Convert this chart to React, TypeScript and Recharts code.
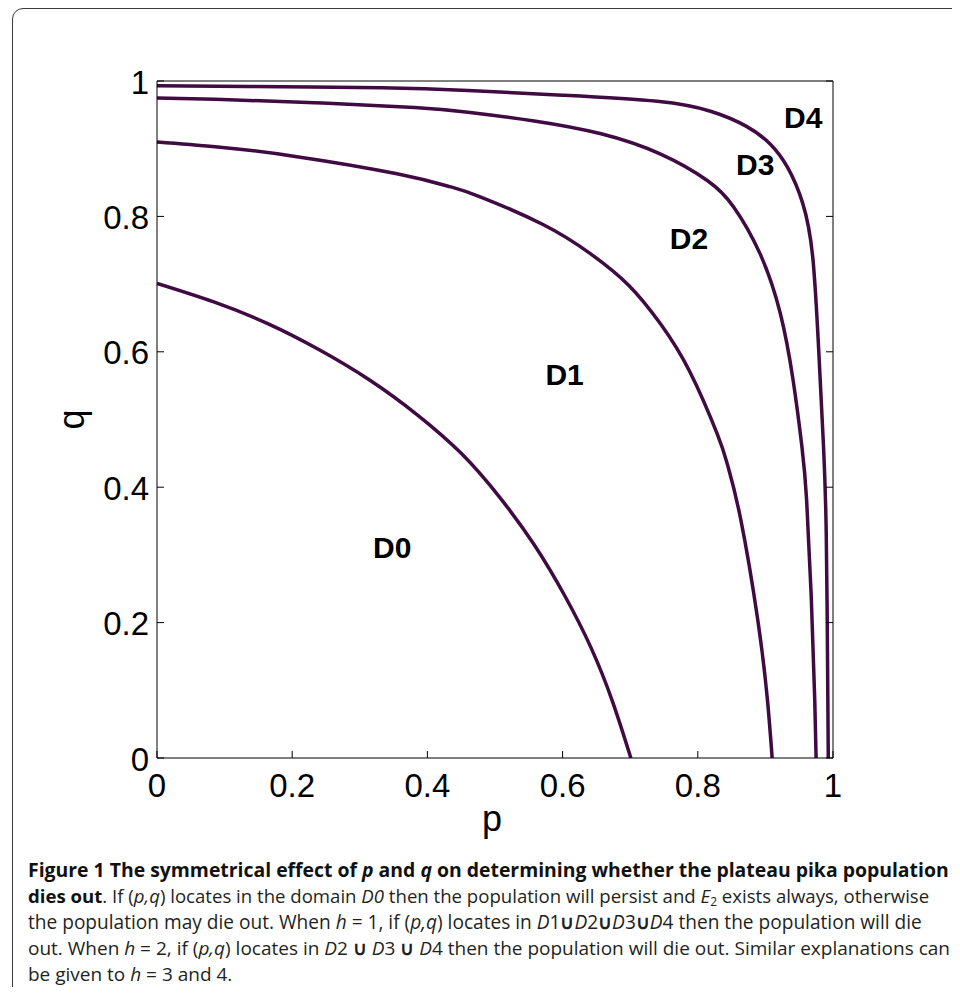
import React from 'react';
import { ComposedChart, Line, Scatter, XAxis, YAxis } from 'recharts';

// ---- data ----
const tickValues = [0, 0.2, 0.4, 0.6, 0.8, 1];
const tickLabels = ['0', '0.2', '0.4', '0.6', '0.8', '1'];

// boundary between D0 and D1
const curve1P = [0, 0.083, 0.163, 0.24, 0.315, 0.385, 0.45, 0.507, 0.558, 0.603, 0.642, 0.674, 0.701];
const curve1Q = [0.701, 0.674, 0.642, 0.603, 0.558, 0.507, 0.45, 0.385, 0.315, 0.24, 0.163, 0.083, 0];

// boundary between D1 and D2
const curve2P = [0, 0.086, 0.202, 0.355, 0.433, 0.478, 0.571, 0.641, 0.698, 0.745, 0.788, 0.829, 0.844, 0.863, 0.889, 0.903, 0.91];
const curve2Q = [0.91, 0.903, 0.889, 0.863, 0.844, 0.829, 0.788, 0.745, 0.698, 0.641, 0.571, 0.478, 0.433, 0.355, 0.202, 0.086, 0];

// boundary between D2 and D3
const curve3P = [0, 0.086, 0.233, 0.381, 0.46, 0.558, 0.657, 0.745, 0.814, 0.853, 0.892, 0.922, 0.941, 0.954, 0.961, 0.968, 0.973, 0.975];
const curve3Q = [0.975, 0.973, 0.968, 0.961, 0.954, 0.941, 0.922, 0.892, 0.853, 0.814, 0.745, 0.657, 0.558, 0.46, 0.381, 0.233, 0.086, 0];

// boundary between D3 and D4
const curve4P = [0, 0.135, 0.332, 0.46, 0.6, 0.74, 0.82, 0.872, 0.907, 0.933, 0.955, 0.97, 0.979, 0.986, 0.99, 0.992, 0.993];
const curve4Q = [0.993, 0.992, 0.99, 0.986, 0.979, 0.97, 0.955, 0.933, 0.907, 0.872, 0.82, 0.74, 0.6, 0.46, 0.332, 0.135, 0];

// region labels
const regionNames = ['D0', 'D1', 'D2', 'D3', 'D4'];
const regionP = [0.348, 0.603, 0.787, 0.885, 0.956];
const regionQ = [0.311, 0.567, 0.768, 0.877, 0.947];

// ---- build series ----
const toPoints = (ps: number[], qs: number[]) => ps.map((p, i) => ({ p, q: qs[i] }));
const curves = [
  toPoints(curve1P, curve1Q),
  toPoints(curve2P, curve2Q),
  toPoints(curve3P, curve3Q),
  toPoints(curve4P, curve4Q),
];
const regionData = regionNames.map((name, i) => ({ name, p: regionP[i], q: regionQ[i] }));

const AXIS_FONT = '"Liberation Sans", Arial, Helvetica, sans-serif';
const LINE_COLOR = '#400a42';
const TICK_LEN = 7;

const labelOf = (v: number) => {
  const i = tickValues.findIndex((t) => Math.abs(t - v) < 1e-9);
  return i >= 0 ? tickLabels[i] : String(v);
};

const BottomTick = (props: any) => {
  const { x, y, payload } = props;
  return (
    <g>
      <line x1={x} y1={y} x2={x} y2={y - TICK_LEN} stroke="#000" strokeWidth={1} />
      <text x={x} y={y + 39} textAnchor="middle" fontSize={33} fontFamily={AXIS_FONT} fill="#000">
        {labelOf(payload.value)}
      </text>
    </g>
  );
};

const LeftTick = (props: any) => {
  const { x, y, payload } = props;
  return (
    <g>
      <line x1={x} y1={y} x2={x + TICK_LEN} y2={y} stroke="#000" strokeWidth={1} />
      <text x={x - 8} y={y + 12.5} textAnchor="end" fontSize={33} fontFamily={AXIS_FONT} fill="#000">
        {labelOf(payload.value)}
      </text>
    </g>
  );
};

const TopTick = (props: any) => {
  const { x, y } = props;
  return <line x1={x} y1={y} x2={x} y2={y + TICK_LEN - 1} stroke="#000" strokeWidth={1} />;
};

const RightTick = (props: any) => {
  const { x, y } = props;
  return <line x1={x} y1={y} x2={x - TICK_LEN} y2={y} stroke="#000" strokeWidth={1} />;
};

const RegionLabel = (props: any) => {
  const { cx, cy, payload } = props;
  return (
    <text x={cx} y={cy + 11} textAnchor="middle" fontSize={30} fontWeight="bold" fontFamily={AXIS_FONT} fill="#000">
      {payload.name}
    </text>
  );
};

const PLabel = (props: any) => {
  const vb = props.viewBox;
  return (
    <text x={vb.x + vb.width / 2 - 3} y={vb.y + 73} textAnchor="middle" fontSize={36} fontFamily={AXIS_FONT} fill="#000">
      p
    </text>
  );
};

const QLabel = (props: any) => {
  const vb = props.viewBox;
  const x = vb.x + 7;
  const y = vb.y + vb.height / 2;
  return (
    <text x={x} y={y} transform={`rotate(-90 ${x} ${y})`} textAnchor="middle" fontSize={36} fontFamily={AXIS_FONT} fill="#000">
      q
    </text>
  );
};

const captionStyle: React.CSSProperties = {
  position: 'absolute',
  left: 20,
  whiteSpace: 'nowrap',
  fontFamily: '"Open Sans", "Noto Sans", sans-serif',
  fontSize: 19,
  lineHeight: '26px',
  color: '#231f20',
};

const Sub = ({ children }: { children: React.ReactNode }) => (
  <sub style={{ fontSize: 12, lineHeight: 0, verticalAlign: '-3px' }}>{children}</sub>
);

export default function App() {
  return (
    <div style={{ position: 'relative', width: 952, height: 979, overflow: 'hidden' }}>
      <div
        style={{
          position: 'absolute',
          left: 4,
          top: 0,
          width: 1000,
          height: 1100,
          border: '1.5px solid #3a3a3a',
          borderRadius: 11,
          boxSizing: 'border-box',
        }}
      />
      <div style={{ position: 'absolute', left: 0, top: 0 }}>
        <ComposedChart width={944} height={850} margin={{ top: 63, right: 109, bottom: 40, left: 69 }}>
          <XAxis
            dataKey="p"
            type="number"
            domain={[0, 1]}
            ticks={tickValues}
            interval={0}
            allowDataOverflow
            tick={BottomTick}
            tickLine={false}
            tickSize={0}
            tickMargin={0}
            height={60}
            axisLine={{ stroke: '#000', strokeWidth: 1 }}
            label={PLabel}
          />
          <XAxis
            xAxisId="top"
            orientation="top"
            type="number"
            domain={[0, 1]}
            ticks={tickValues}
            interval={0}
            allowDataOverflow
            tick={TopTick}
            tickLine={false}
            tickSize={0}
            tickMargin={0}
            height={10}
            axisLine={{ stroke: '#000', strokeWidth: 1 }}
          />
          <YAxis
            type="number"
            domain={[0, 1]}
            ticks={tickValues}
            interval={0}
            allowDataOverflow
            tick={LeftTick}
            tickLine={false}
            tickSize={0}
            tickMargin={0}
            width={80}
            axisLine={{ stroke: '#000', strokeWidth: 1 }}
            label={QLabel}
          />
          <YAxis
            yAxisId="right"
            orientation="right"
            type="number"
            domain={[0, 1]}
            ticks={tickValues}
            interval={0}
            allowDataOverflow
            tick={RightTick}
            tickLine={false}
            tickSize={0}
            tickMargin={0}
            width={10}
            axisLine={{ stroke: '#000', strokeWidth: 1 }}
          />
          {curves.map((c, i) => (
            <Line
              key={i}
              data={c}
              dataKey="q"
              type="natural"
              stroke={LINE_COLOR}
              strokeWidth={3.5}
              dot={false}
              activeDot={false}
              isAnimationActive={false}
            />
          ))}
          <Scatter data={regionData} dataKey="q" shape={RegionLabel} isAnimationActive={false} />
        </ComposedChart>
      </div>
      <div style={{ ...captionStyle, top: 848.5, fontSize: 19.4, fontWeight: 'bold', color: '#111' }}>
        Figure 1 The symmetrical effect of <i>p</i> and <i>q</i> on determining whether the plateau pika population
      </div>
      <div style={{ ...captionStyle, top: 874.7, fontSize: 18.6 }}>
        <b style={{ color: '#111' }}>dies out</b>. If (<i>p,q</i>) locates in the domain <i>D0</i> then the population will persist and <i>E</i>
        <Sub>2</Sub> exists always, otherwise
      </div>
      <div style={{ ...captionStyle, top: 900.6, fontSize: 19.1 }}>
        the population may die out. When <i>h</i> = 1, if (<i>p,q</i>) locates in <i>D</i>1<b>∪</b><i>D</i>2<b>∪</b><i>D</i>3<b>∪</b><i>D</i>4 then the population will die
      </div>
      <div style={{ ...captionStyle, top: 926.6, fontSize: 19.0 }}>
        out. When <i>h</i> = 2, if (<i>p,q</i>) locates in <i>D</i>2 <b>∪</b> <i>D</i>3 <b>∪</b> <i>D</i>4 then the population will die out. Similar explanations can
      </div>
      <div style={{ ...captionStyle, top: 952.6 }}>
        be given to <i>h</i> = 3 and 4.
      </div>
    </div>
  );
}
